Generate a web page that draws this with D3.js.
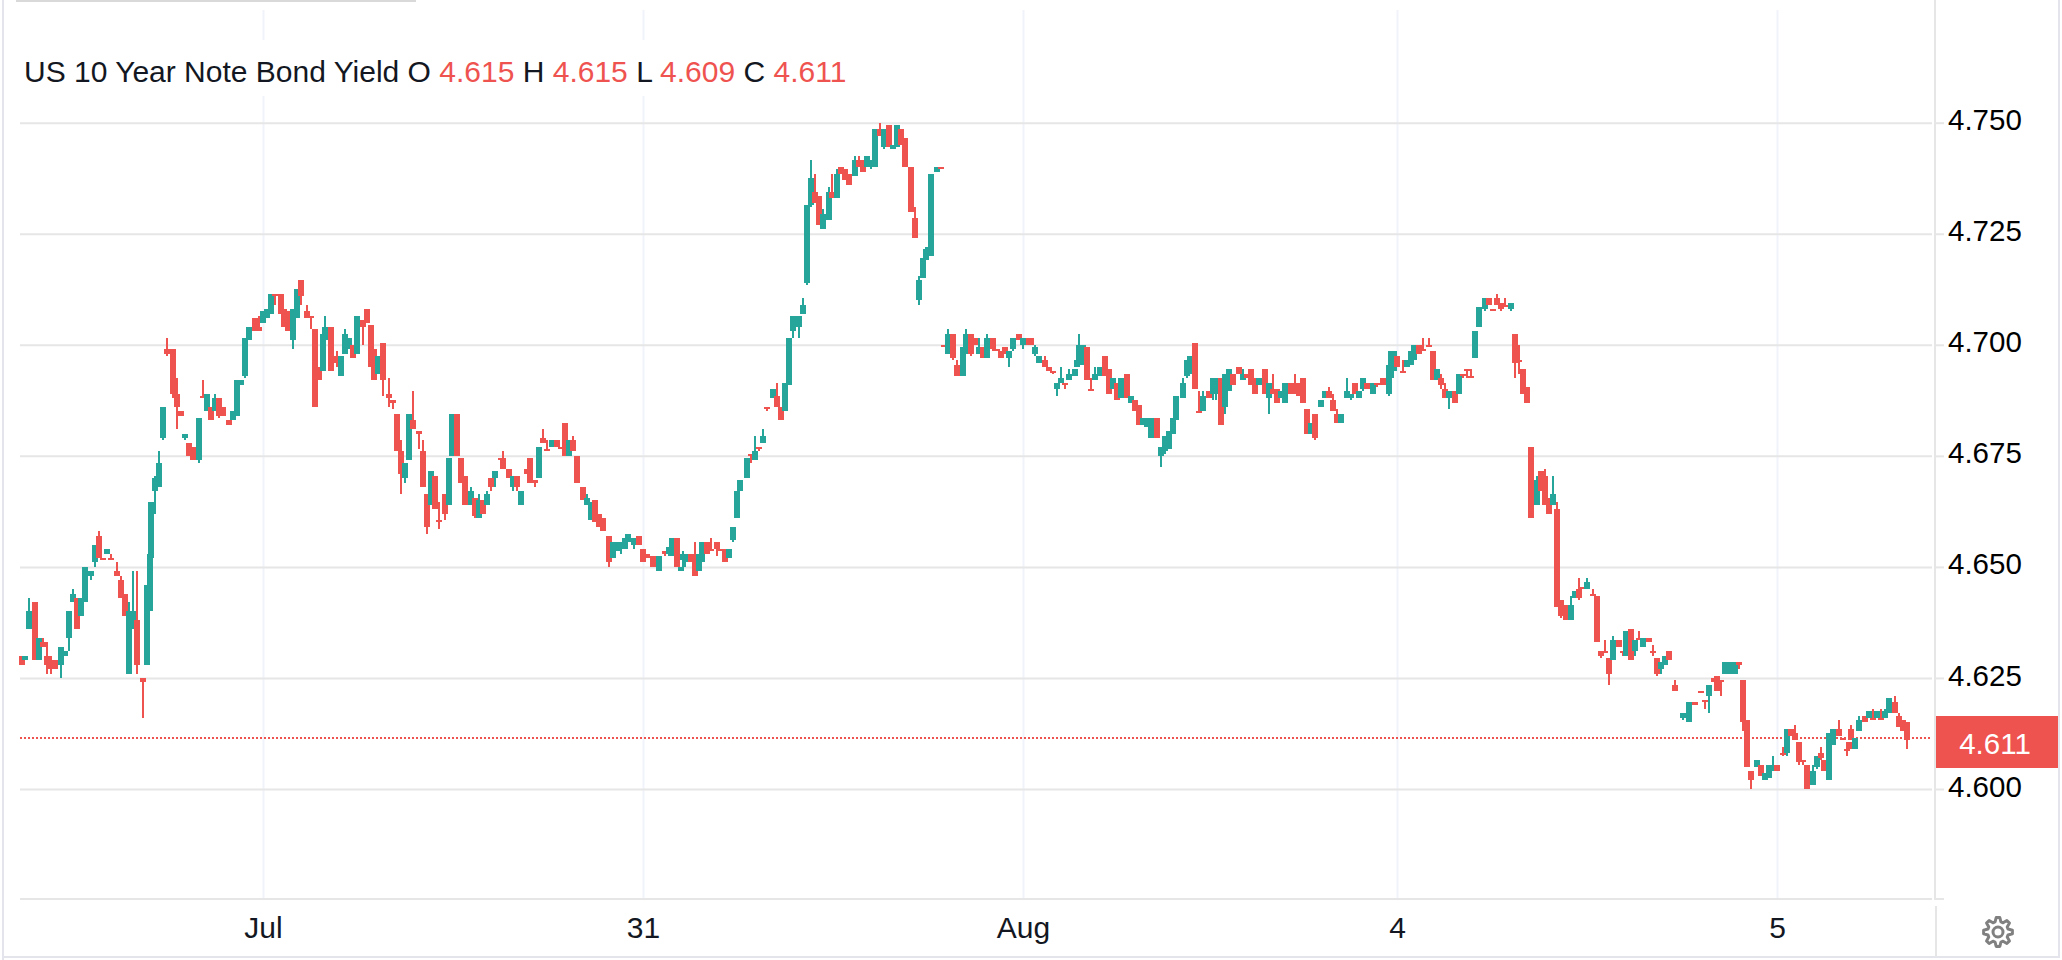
<!DOCTYPE html>
<html>
<head>
<meta charset="utf-8">
<script src="https://cdn.jsdelivr.net/npm/d3@7"></script>
<style>
  html, body { margin: 0; padding: 0; background: #fff; }
  svg { display: block; font-family: "Liberation Sans", Arial, sans-serif; }
</style>
</head>
<body>
<svg id="chart"></svg>
<script>
// bars are [slot, open, high, low, close], one array per trading day
const sessionJun30 = [
  [1,4.630,4.630,4.628,4.628],[2.5,4.629,4.630,4.629,4.630],[4.5,4.636,4.643,4.636,4.640],[7.5,4.642,4.642,4.629,4.629],
  [9.5,4.629,4.634,4.629,4.634],[11.5,4.633,4.634,4.632,4.632],[13.5,4.630,4.633,4.626,4.628],[15.5,4.629,4.630,4.626,4.627],
  [17.5,4.629,4.629,4.627,4.627],[20.5,4.628,4.632,4.625,4.632],[22.5,4.630,4.631,4.630,4.631],[24.5,4.634,4.640,4.631,4.640],
  [26.5,4.642,4.645,4.642,4.644],[28.5,4.643,4.643,4.636,4.636],[30.5,4.639,4.643,4.639,4.643],[32.5,4.642,4.650,4.642,4.650],
  [35.5,4.648,4.649,4.647,4.649],[37.5,4.651,4.655,4.650,4.655],[39.5,4.657,4.658,4.652,4.652],[41.5,4.652,4.652,4.652,4.652],
  [43.5,4.653,4.654,4.653,4.654],[45.5,4.652,4.653,4.652,4.652],[48.5,4.649,4.651,4.648,4.648],[50.5,4.647,4.648,4.643,4.643],
  [52.5,4.644,4.644,4.639,4.639],[54.5,4.626,4.642,4.626,4.640],[56.5,4.636,4.649,4.636,4.640],[58.5,4.638,4.649,4.626,4.628],
  [61.5,4.625,4.625,4.616,4.624],[63.5,4.628,4.646,4.628,4.646],[65,4.640,4.653,4.640,4.653],[65.5,4.652,4.6645,4.652,4.6645],
  [66.5,4.662,4.6645,4.662,4.6645],[67.5,4.667,4.670,4.662,4.670],[68.5,4.668,4.6705,4.668,4.6705],[69.5,4.668,4.676,4.668,4.6735],
  [71.5,4.679,4.686,4.6785,4.686],[73.5,4.699,4.7016,4.6975,4.698],[76.5,4.699,4.699,4.689,4.689],[77.5,4.6925,4.6925,4.688,4.688],
  [78.5,4.689,4.689,4.681,4.686],[80.5,4.685,4.685,4.684,4.684],[82.5,4.679,4.680,4.6785,4.680],[84.5,4.678,4.678,4.675,4.675],
  [86.5,4.677,4.677,4.674,4.674],[89.5,4.674,4.6835,4.6735,4.6835],[91.5,4.6885,4.692,4.688,4.688],[93.5,4.685,4.689,4.685,4.689],
  [95.5,4.686,4.686,4.683,4.683],[97.5,4.685,4.689,4.685,4.688],[99.5,4.688,4.688,4.6835,4.684],[101.5,4.686,4.686,4.684,4.684],
  [104.5,4.683,4.683,4.682,4.682],[106.5,4.683,4.685,4.683,4.685],[108.5,4.684,4.692,4.684,4.692],[110.5,4.691,4.692,4.691,4.692],
  [112.5,4.693,4.7015,4.6925,4.7015],[114.5,4.701,4.704,4.701,4.704],[117.5,4.706,4.706,4.703,4.703],[119.5,4.704,4.7065,4.703,4.703]
];
const sessionJul = [
  [121.5,4.705,4.7075,4.705,4.7075],[123.5,4.706,4.708,4.706,4.708],[125.5,4.707,4.7115,4.707,4.7115],[127.5,4.7115,4.7115,4.709,4.711],
  [130.5,4.7115,4.7115,4.707,4.707],[132,4.708,4.708,4.704,4.704],[134,4.7075,4.7075,4.703,4.703],[136.5,4.701,4.708,4.699,4.708],
  [138.5,4.706,4.7125,4.706,4.7125],[140.5,4.7145,4.7145,4.709,4.711],[143.5,4.7075,4.709,4.706,4.706],[145.5,4.7065,4.7065,4.7035,4.706],
  [147.5,4.7035,4.7035,4.686,4.686],[149.5,4.695,4.695,4.692,4.692],[151.5,4.694,4.7025,4.694,4.7025],[152.5,4.701,4.7065,4.701,4.704],
  [155.5,4.704,4.704,4.694,4.694],[158.5,4.6975,4.6985,4.695,4.696],[160.5,4.693,4.6975,4.693,4.6975],[162.5,4.698,4.7035,4.698,4.7025],
  [164.5,4.699,4.7015,4.699,4.7015],[166.5,4.700,4.700,4.697,4.697],[168.5,4.698,4.7065,4.698,4.7065],[171.5,4.7055,4.7055,4.700,4.704],
  [173.5,4.708,4.708,4.705,4.705],[175.5,4.7045,4.7045,4.695,4.695],[177,4.699,4.699,4.692,4.692],[179,4.6935,4.6975,4.6935,4.6975],
  [181.5,4.7005,4.7005,4.6885,4.692],[184.5,4.689,4.6925,4.686,4.688],[186.5,4.6875,4.6875,4.6855,4.687],[188.5,4.6845,4.6845,4.676,4.676],
  [189.5,4.6785,4.6785,4.676,4.676],[190.5,4.676,4.676,4.6665,4.671],[192.5,4.670,4.6735,4.669,4.6735],[194.5,4.674,4.6845,4.674,4.6845],
  [196.5,4.683,4.6895,4.681,4.681],[199.5,4.6805,4.6805,4.6765,4.680],[201.5,4.676,4.6785,4.668,4.668],[203.5,4.6665,4.6665,4.6575,4.659],
  [205.5,4.664,4.6715,4.664,4.6715],[207.5,4.6705,4.6705,4.663,4.663],[209.5,4.6605,4.6645,4.6585,4.660],[212.5,4.6665,4.6665,4.6605,4.662],
  [214.5,4.664,4.6745,4.664,4.6745],[216,4.675,4.6845,4.675,4.6845],[218.5,4.6845,4.6845,4.675,4.675],[220.5,4.6745,4.6745,4.669,4.669],
  [222.5,4.6705,4.6705,4.664,4.664],[225.5,4.664,4.668,4.664,4.667],[227.5,4.6655,4.6655,4.661,4.6615],[229.5,4.661,4.6665,4.661,4.665],
  [231.5,4.665,4.665,4.662,4.662],[233.5,4.664,4.667,4.664,4.6665],[235.5,4.670,4.670,4.667,4.668],[237.5,4.670,4.6715,4.668,4.6715],
  [240.5,4.6745,4.6745,4.674,4.674],[241.5,4.6745,4.676,4.672,4.672],[244.5,4.672,4.672,4.670,4.670],[246.5,4.668,4.6705,4.667,4.6705],
  [248.5,4.6705,4.6705,4.667,4.668],[250.5,4.664,4.667,4.664,4.667],[253.5,4.672,4.672,4.671,4.671],[255,4.6745,4.6745,4.669,4.669],
  [257.5,4.6695,4.6695,4.668,4.669],[259.5,4.670,4.677,4.670,4.677],[261.5,4.679,4.681,4.678,4.678],[263.5,4.6765,4.6785,4.676,4.676],
  [266,4.677,4.6785,4.677,4.6785],[268.5,4.6785,4.6785,4.677,4.677],[270.5,4.677,4.677,4.6765,4.6765],[272.5,4.6825,4.6825,4.675,4.675],
  [274.5,4.675,4.6785,4.675,4.6785],[276.5,4.6785,4.6795,4.676,4.676],[278.5,4.675,4.675,4.669,4.669],[281.5,4.668,4.668,4.665,4.665],
  [283.5,4.664,4.6665,4.664,4.6655],[285.5,4.6605,4.6645,4.6605,4.6645],[287.5,4.665,4.665,4.660,4.660],[289.5,4.662,4.662,4.659,4.659],
  [291.5,4.661,4.661,4.658,4.658],[294.5,4.657,4.657,4.650,4.651],[296.5,4.652,4.6555,4.652,4.6555],[298.5,4.6535,4.6555,4.6535,4.6555],
  [300.5,4.654,4.6555,4.653,4.6555],[302.5,4.654,4.6565,4.654,4.6565],[304,4.6555,4.6575,4.6555,4.6575],[307,4.655,4.6565,4.654,4.6565],
  [309.5,4.657,4.657,4.655,4.655]
];
const session31 = [
  [311.5,4.654,4.654,4.651,4.651],[313.5,4.653,4.653,4.652,4.652],[316.5,4.6525,4.6525,4.650,4.650],[319.5,4.649,4.6525,4.649,4.6525],
  [322.5,4.6535,4.6535,4.6525,4.653],[324.5,4.653,4.6545,4.6525,4.6545],[326,4.6525,4.6565,4.6525,4.6565],[328.5,4.6565,4.6565,4.650,4.650],
  [330.5,4.649,4.650,4.649,4.650],[331.5,4.6515,4.6535,4.650,4.653],[332.5,4.651,4.653,4.650,4.653],[335.5,4.653,4.653,4.651,4.651],
  [337.5,4.653,4.6555,4.648,4.648],[339.5,4.649,4.653,4.649,4.653],[341,4.651,4.6555,4.651,4.6555],[343.5,4.6555,4.6555,4.653,4.653],
  [345.5,4.654,4.6565,4.6535,4.6535],[348.5,4.6555,4.6555,4.6525,4.654],[350.5,4.654,4.654,4.6535,4.6535],[352.5,4.654,4.654,4.651,4.651],
  [354.5,4.652,4.654,4.652,4.654],[356.5,4.656,4.659,4.6555,4.659],[358.5,4.661,4.667,4.661,4.667],[360,4.667,4.6695,4.667,4.6695],
  [363.5,4.670,4.6745,4.670,4.6745],[365.5,4.6755,4.6755,4.6735,4.675],[367.5,4.674,4.6795,4.674,4.676],[369.5,4.677,4.677,4.676,4.6765],
  [371.5,4.678,4.681,4.678,4.6795],[373.5,4.686,4.686,4.685,4.6855],[376.5,4.688,4.690,4.688,4.690],[378.5,4.6885,4.6915,4.686,4.686],
  [380.5,4.686,4.686,4.683,4.683],[382.5,4.685,4.6915,4.685,4.6915],[384.5,4.691,4.7015,4.691,4.7015],[386.5,4.703,4.7065,4.7015,4.7065],
  [389.5,4.704,4.7065,4.7015,4.7065],[391.5,4.707,4.7105,4.707,4.709],[393.5,4.714,4.7315,4.7135,4.7315],[395.5,4.7315,4.7415,4.731,4.7375],
  [397.5,4.7345,4.7385,4.732,4.732],[399.5,4.7335,4.7335,4.727,4.727],[401.5,4.726,4.7305,4.726,4.7295],[404.5,4.728,4.7355,4.728,4.7345],
  [406,4.7345,4.7385,4.733,4.733],[408.5,4.733,4.7395,4.733,4.7385],[410.5,4.740,4.740,4.7385,4.7385],[412.5,4.7395,4.7395,4.737,4.737],
  [414.5,4.7385,4.7385,4.736,4.736],[417.5,4.738,4.7425,4.738,4.7415],[419.5,4.7415,4.7425,4.740,4.740],[421.5,4.7415,4.7415,4.739,4.739],
  [423.5,4.740,4.7425,4.740,4.7425],[425.5,4.740,4.7415,4.7395,4.7415],[427.5,4.740,4.7485,4.740,4.7485],[430,4.7485,4.750,4.747,4.747],
  [432,4.7445,4.7485,4.744,4.7485],[434.5,4.7495,4.7495,4.7445,4.7445],[436.5,4.744,4.745,4.744,4.745],[438.5,4.7445,4.7495,4.7445,4.7495],
  [440.5,4.7485,4.7485,4.745,4.745],[442.5,4.7465,4.7465,4.740,4.740],[445.5,4.740,4.740,4.730,4.730],[447.5,4.7285,4.731,4.724,4.724],
  [449.5,4.710,4.7155,4.709,4.7145],[451.5,4.715,4.7195,4.715,4.7195],[453,4.719,4.7215,4.719,4.7215],[454,4.720,4.722,4.720,4.722],
  [455.5,4.720,4.7385,4.720,4.7385],[458.5,4.739,4.740,4.739,4.740],[460.5,4.740,4.740,4.7395,4.7395],[462,4.700,4.700,4.700,4.700],
  [464,4.698,4.7035,4.698,4.7025],[466.5,4.7025,4.7025,4.6965,4.697],[468.5,4.6955,4.6965,4.693,4.693],[471.5,4.693,4.6995,4.693,4.6995],
  [473,4.698,4.7035,4.698,4.7025],[475.5,4.7025,4.7025,4.6975,4.698],[477.5,4.7015,4.7015,4.700,4.700],[479.5,4.698,4.7015,4.698,4.6995],
  [481.5,4.6995,4.6995,4.697,4.697],[483.5,4.697,4.7025,4.697,4.7015],[486.5,4.7015,4.7015,4.6985,4.699],[488.5,4.699,4.699,4.699,4.699],
  [490.5,4.6985,4.6985,4.697,4.697],[492.5,4.6995,4.6995,4.698,4.698],[494.5,4.697,4.6985,4.695,4.6985],[496.5,4.699,4.7015,4.6985,4.7015],
  [499.5,4.7025,4.7025,4.701,4.701]
];
const sessionAug = [
  [501.5,4.700,4.7015,4.699,4.7015],[504.5,4.7015,4.7015,4.700,4.700],[505.5,4.7015,4.7015,4.700,4.700],[507.5,4.698,4.700,4.6975,4.6995],
  [509.5,4.696,4.6975,4.696,4.6975],[512.5,4.6965,4.6975,4.695,4.695],[514.5,4.695,4.695,4.694,4.694],[516.5,4.694,4.694,4.6935,4.694],
  [518.5,4.690,4.6915,4.6885,4.6915],[520.5,4.6915,4.695,4.6915,4.6925],[522.5,4.6915,4.6915,4.690,4.6915],[524.5,4.692,4.6945,4.692,4.6935],
  [527.5,4.693,4.6945,4.693,4.6945],[528.5,4.695,4.6965,4.695,4.6965],[529.5,4.6955,4.7025,4.6955,4.700],[531.5,4.6955,4.700,4.6955,4.700],
  [533.5,4.6995,4.6995,4.692,4.692],[535.5,4.690,4.6925,4.6895,4.690],[537.5,4.692,4.695,4.692,4.6935],[540,4.693,4.695,4.693,4.695],
  [542.5,4.6975,4.6975,4.693,4.693],[544.5,4.6945,4.6945,4.689,4.689],[546.5,4.690,4.6925,4.690,4.6925],[548.5,4.6915,4.6915,4.6875,4.6875],
  [550.5,4.688,4.6925,4.688,4.6925],[553.5,4.6935,4.6935,4.688,4.688],[555.5,4.687,4.6885,4.687,4.6885],[557.5,4.6875,4.6875,4.685,4.685],
  [559.5,4.6865,4.6865,4.682,4.682],[561.5,4.682,4.6835,4.682,4.6835],[563.5,4.6815,4.6835,4.6815,4.6835],[565.5,4.679,4.6835,4.679,4.6835],
  [568.5,4.6835,4.6835,4.679,4.679],[570.5,4.675,4.677,4.6725,4.677],[572.5,4.676,4.6795,4.6755,4.6795],[574.5,4.6765,4.6805,4.6765,4.6805],
  [576.5,4.680,4.6835,4.680,4.6835],[578,4.683,4.6885,4.683,4.6885],[581.5,4.688,4.6925,4.688,4.6915],[583.5,4.693,4.6965,4.6925,4.6965],
  [585,4.6935,4.6975,4.6935,4.6975],[587.5,4.7005,4.7005,4.690,4.690],[589.5,4.685,4.6895,4.685,4.685],[591.5,4.685,4.6895,4.685,4.6885],
  [594.5,4.6895,4.6895,4.688,4.688],[596.5,4.689,4.6925,4.6875,4.6925],[598,4.689,4.6925,4.6875,4.6925],[600.5,4.6925,4.6925,4.682,4.682],
  [602.5,4.686,4.6935,4.6845,4.6935],[604.5,4.6895,4.6945,4.6895,4.6945],[606.5,4.6935,4.6935,4.691,4.691],[609.5,4.695,4.695,4.6935,4.6935],
  [611.5,4.692,4.6945,4.692,4.6935],[613.5,4.6935,4.6935,4.6925,4.6925],[615.5,4.6945,4.6945,4.691,4.691],[617.5,4.6925,4.6925,4.689,4.689],
  [619.5,4.691,4.6925,4.691,4.6925],[622.5,4.6945,4.6945,4.689,4.689],[624.5,4.688,4.6915,4.6845,4.6915],[626.5,4.690,4.6935,4.689,4.689],
  [628.5,4.690,4.690,4.687,4.687],[630.5,4.688,4.6895,4.688,4.6895],[632.5,4.687,4.6915,4.687,4.6915],[635.5,4.6915,4.6915,4.689,4.689],
  [637.5,4.6915,4.6935,4.689,4.689],[639.5,4.6915,4.6915,4.6885,4.6885],[641.5,4.6925,4.6925,4.687,4.687],[643.5,4.6855,4.6855,4.680,4.680],
  [645.5,4.680,4.6825,4.680,4.6825],[647.5,4.6845,4.6845,4.6785,4.679],[650.5,4.686,4.6875,4.686,4.6875],[652.5,4.688,4.6895,4.688,4.6895],
  [654.5,4.6895,4.6905,4.688,4.688],[656.5,4.6875,4.689,4.685,4.685],[658.5,4.6845,4.6855,4.6825,4.6825],[660.5,4.6825,4.6845,4.6825,4.6845],
  [663.5,4.688,4.6925,4.688,4.6895],[665.5,4.688,4.689,4.6875,4.689],[667.5,4.6915,4.6915,4.689,4.689],[669.5,4.688,4.6895,4.688,4.6895],
  [671.5,4.690,4.6925,4.6895,4.6925],[673.5,4.6915,4.6915,4.690,4.690],[676.5,4.689,4.6915,4.689,4.6915],[678.5,4.6915,4.6915,4.6905,4.691],
  [681.5,4.6925,4.6925,4.691,4.691],[684.5,4.689,4.6955,4.6885,4.6955],[685.5,4.6925,4.6985,4.6925,4.6985],[687,4.694,4.6985,4.694,4.6985]
];
const session4 = [
  [688.5,4.6975,4.6975,4.695,4.695],[691.5,4.694,4.6965,4.694,4.694],[693.5,4.695,4.6965,4.695,4.6965],[695.5,4.6955,4.6985,4.6955,4.6985],
  [697,4.6965,4.700,4.6965,4.700],[699.5,4.700,4.700,4.698,4.698],[701.5,4.699,4.7015,4.699,4.699],[704.5,4.700,4.7015,4.6995,4.700],
  [706.5,4.6985,4.6985,4.692,4.692],[708.5,4.692,4.6945,4.692,4.6945],[710.5,4.6925,4.6935,4.690,4.691],[712.5,4.690,4.6915,4.688,4.688],
  [714.5,4.688,4.6895,4.6855,4.6895],[717.5,4.6895,4.6895,4.687,4.687],[719.5,4.689,4.6935,4.689,4.6935],[721.5,4.6935,4.6935,4.6925,4.693],
  [723.5,4.6945,4.6945,4.6925,4.694],[725.5,4.693,4.6945,4.693,4.693],[727.5,4.697,4.703,4.697,4.703],[729.5,4.704,4.7085,4.704,4.7085],
  [732.5,4.708,4.7105,4.7075,4.7105],[734.5,4.7105,4.7105,4.709,4.709],[736.5,4.708,4.708,4.7075,4.708],[738.5,4.7105,4.7115,4.709,4.709],
  [740.5,4.7095,4.7095,4.7075,4.708],[742.5,4.709,4.7105,4.7085,4.709],[745.5,4.708,4.7095,4.7075,4.7095],[747.5,4.7025,4.7025,4.6925,4.696],
  [748.5,4.700,4.700,4.696,4.696],[749.5,4.6965,4.6965,4.6935,4.6965],[751.5,4.6945,4.6945,4.689,4.689],[753.5,4.6905,4.6905,4.687,4.687],
  [755.5,4.677,4.677,4.661,4.661],[758.5,4.664,4.6705,4.664,4.6695],[760.5,4.6715,4.6715,4.667,4.667],[762.5,4.6705,4.672,4.664,4.664],
  [764.5,4.6655,4.6655,4.662,4.662],[766.5,4.664,4.6705,4.664,4.6665],[768.5,4.663,4.6645,4.641,4.641],[770.5,4.6425,4.6425,4.6385,4.639],
  [773,4.6415,4.6415,4.638,4.638],[775.5,4.638,4.6435,4.638,4.6415],[777.5,4.643,4.6445,4.643,4.6445],[779.5,4.645,4.6475,4.6425,4.643],
  [781.5,4.6455,4.6455,4.645,4.645],[783.5,4.645,4.6475,4.645,4.6465],[786.5,4.644,4.645,4.6435,4.644],[788.5,4.6435,4.6435,4.633,4.633],
  [790.5,4.631,4.631,4.6295,4.630],[792.5,4.631,4.6335,4.631,4.631],[794.5,4.6295,4.6295,4.6235,4.626],[796.5,4.629,4.6345,4.629,4.6335],
  [799.5,4.6335,4.6335,4.632,4.632],[801.5,4.631,4.631,4.630,4.631],[803,4.630,4.6355,4.630,4.6355],[805.5,4.636,4.636,4.629,4.629],
  [807.5,4.631,4.6335,4.630,4.6335],[809.5,4.634,4.6355,4.6335,4.634],[811.5,4.632,4.634,4.632,4.634],[814.5,4.634,4.634,4.633,4.633],
  [816.5,4.631,4.6325,4.630,4.631],[818.5,4.6295,4.6295,4.6255,4.626],[820.5,4.627,4.6285,4.626,4.6285],[822.5,4.628,4.630,4.628,4.630],
  [824.5,4.631,4.631,4.629,4.629],[827.5,4.6235,4.6245,4.622,4.622],[831.5,4.616,4.617,4.6155,4.617],[834.5,4.615,4.6195,4.615,4.6195],
  [837.5,4.6195,4.6195,4.619,4.619],[840.5,4.622,4.622,4.622,4.622],[842.5,4.620,4.620,4.618,4.620],[844.5,4.621,4.6235,4.617,4.6235],
  [847,4.625,4.625,4.624,4.624],[848.5,4.6255,4.6255,4.622,4.622],[850.5,4.6245,4.6245,4.621,4.624],[852.5,4.626,4.6285,4.626,4.6285],
  [854.5,4.626,4.6285,4.626,4.6285],[856.5,4.626,4.6285,4.626,4.6285],[857.5,4.626,4.6285,4.626,4.6285],[859.5,4.6285,4.6285,4.627,4.628],
  [861.5,4.6245,4.6245,4.615,4.615],[862.5,4.6155,4.6155,4.613,4.613],[863.5,4.6155,4.6155,4.605,4.605],[865.5,4.604,4.604,4.600,4.602],
  [868.5,4.605,4.6065,4.605,4.6065],[870.5,4.6055,4.6055,4.603,4.603],[872.5,4.602,4.6035,4.602,4.6035],[874.5,4.6025,4.6055,4.6025,4.6055]
];
const session5 = [
  [876.5,4.604,4.6075,4.604,4.6055],[878.5,4.6055,4.6055,4.604,4.604],[881.5,4.608,4.6095,4.6075,4.608],[883.5,4.608,4.6135,4.6075,4.6135],
  [885.5,4.6135,4.6135,4.612,4.612],[887.5,4.6125,4.6145,4.611,4.611],[889.5,4.6105,4.6105,4.6055,4.606],[891.5,4.6065,4.6065,4.6055,4.606],
  [893.5,4.6055,4.6055,4.600,4.600],[896.5,4.601,4.6055,4.601,4.604],[898.5,4.605,4.6075,4.6045,4.6075],[900.5,4.608,4.6095,4.6065,4.607],
  [902,4.6065,4.6065,4.604,4.604],[904.5,4.602,4.6125,4.602,4.6125],[906.5,4.610,4.6135,4.610,4.6135],[909.5,4.6135,4.6155,4.612,4.612],
  [911.5,4.6115,4.6115,4.611,4.611],[913.5,4.609,4.6105,4.6075,4.609],[914.5,4.6105,4.6105,4.609,4.609],[915.5,4.6135,4.6145,4.611,4.611],
  [917.5,4.609,4.6115,4.609,4.6115],[919.5,4.613,4.6165,4.613,4.6155],[922.5,4.6165,4.6165,4.615,4.615],[924.5,4.616,4.6175,4.616,4.6175],
  [926.5,4.616,4.618,4.616,4.616],[928.5,4.616,4.6175,4.616,4.6175],[930.5,4.616,4.618,4.616,4.616],[932.5,4.616,4.618,4.616,4.6175],
  [934.5,4.617,4.6205,4.617,4.6205],[937.5,4.6195,4.621,4.617,4.617],[939.5,4.6165,4.617,4.614,4.614],[941.5,4.6155,4.6155,4.613,4.613],
  [943.5,4.615,4.615,4.609,4.611]
];
const yTickValues = [4.6, 4.625, 4.65, 4.675, 4.7, 4.725, 4.75];
const xTickSlots = [121.5, 311.5, 501.5, 688.5, 878.5];
const xTickLabels = ['Jul', '31', 'Aug', '4', '5'];
const legendParts = [
  ['US 10 Year Note Bond Yield O ', 'label'], ['4.615', 'value'], [' H ', 'label'], ['4.615', 'value'],
  [' L ', 'label'], ['4.609', 'value'], [' C ', 'label'], ['4.611', 'value']
];
const lastPrice = 4.6115;
const lastPriceLabel = '4.611';

const width = 2062, height = 960;
const upColor = '#26a69a', downColor = '#ef5350';
const pane = { left: 20, right: 1932, top: 10, bottom: 899 };

const svg = d3.select('#chart').attr('width', width).attr('height', height);

const xScale = d3.scaleLinear().domain([0, 956]).range([pane.left, pane.right]);
const yScale = d3.scaleLinear().domain([4.6, 4.75]).range([789, 122.7]);

// page frame
svg.append('rect').attr('x', 16).attr('y', 0).attr('width', 400).attr('height', 2).attr('fill', '#d9d9d9');
svg.append('rect').attr('x', 2).attr('y', 0).attr('width', 2).attr('height', height).attr('fill', '#e4e4ec');
svg.append('rect').attr('x', 2).attr('y', 956).attr('width', 2058).attr('height', 2).attr('fill', '#e4e4ec');
svg.append('rect').attr('x', 2058).attr('y', 0).attr('width', 2).attr('height', 958).attr('fill', '#e4e4ec');

// vertical grid
const xGrid = d3.axisBottom(xScale).tickValues(xTickSlots).tickSize(pane.bottom - pane.top).tickFormat('');
svg.append('g').attr('transform', `translate(0,${pane.top})`).call(xGrid)
  .call(g => g.select('.domain').remove())
  .selectAll('line').attr('stroke', '#f0f3fa').attr('stroke-width', 2);

// white plate behind the legend cuts the vertical grid
svg.append('rect').attr('x', 16).attr('y', 40).attr('width', 836).attr('height', 56).attr('fill', '#fff');

// horizontal grid
const yGrid = d3.axisLeft(yScale).tickValues(yTickValues).tickSize(pane.right - pane.left).tickFormat('');
svg.append('g').attr('transform', `translate(${pane.right},0)`).call(yGrid)
  .call(g => g.select('.domain').remove())
  .selectAll('line').attr('stroke', '#e6e6e6').attr('stroke-width', 2);

// last price line
svg.append('line')
  .attr('x1', pane.left).attr('x2', pane.right)
  .attr('y1', yScale(lastPrice)).attr('y2', yScale(lastPrice))
  .attr('stroke', downColor).attr('stroke-width', 2).attr('stroke-dasharray', '2 2');

// candles
const bars = [sessionJun30, sessionJul, session31, sessionAug, session4, session5].flat()
  .map(([slot, open, high, low, close]) => ({ slot, open, high, low, close }));
const barColor = d => d.close >= d.open && d.close !== d.open ? upColor : downColor;

const candle = svg.append('g').attr('class', 'candles').attr('shape-rendering', 'crispEdges')
  .selectAll('g').data(bars).join('g').attr('fill', barColor);

candle.append('rect')
  .attr('x', d => Math.round(xScale(d.slot)) - 1)
  .attr('width', 2)
  .attr('y', d => yScale(d.high))
  .attr('height', d => Math.max(yScale(d.low) - yScale(d.high), 2));

candle.append('rect')
  .attr('x', d => Math.round(xScale(d.slot)) - 3)
  .attr('width', 6)
  .attr('y', d => yScale(Math.max(d.open, d.close)))
  .attr('height', d => Math.max(Math.abs(yScale(d.open) - yScale(d.close)), 2));

// price axis
svg.append('rect').attr('x', 1934).attr('y', 0).attr('width', 2).attr('height', pane.bottom + 1).attr('fill', '#e6e6e6');
const yAxis = d3.axisRight(yScale).tickValues(yTickValues).tickSize(8).tickPadding(4).tickFormat(d3.format('.3f'));
const yAxisG = svg.append('g').attr('transform', 'translate(1936,0)').call(yAxis);
yAxisG.select('.domain').remove();
yAxisG.selectAll('line').attr('stroke', '#e6e6e6').attr('stroke-width', 2);
yAxisG.selectAll('text')
  .attr('font-family', '"Liberation Sans", Arial, sans-serif').attr('font-size', 29.5)
  .attr('fill', '#000').attr('dy', '0.24em');

// time axis
svg.append('rect').attr('x', pane.left).attr('y', pane.bottom - 1).attr('width', pane.right - pane.left).attr('height', 2).attr('fill', '#e6e6e6');
svg.append('rect').attr('x', 1936).attr('y', pane.bottom - 1).attr('width', 8).attr('height', 2).attr('fill', '#e6e6e6');
svg.append('rect').attr('x', 1935).attr('y', 906).attr('width', 2).attr('height', 50).attr('fill', '#e6e6e6');
const xAxis = d3.axisBottom(xScale).tickValues(xTickSlots).tickSize(0).tickPadding(0)
  .tickFormat((d, i) => xTickLabels[i]);
const xAxisG = svg.append('g').attr('transform', 'translate(0,938)').call(xAxis);
xAxisG.select('.domain').remove();
xAxisG.selectAll('text')
  .attr('font-family', '"Liberation Sans", Arial, sans-serif').attr('font-size', 30)
  .attr('fill', '#131722').attr('dy', 0).attr('y', 0);

// last price label
svg.append('rect').attr('x', 1936).attr('y', 716).attr('width', 122).attr('height', 52).attr('fill', downColor);
svg.append('text').attr('x', 1995).attr('y', 754).attr('text-anchor', 'middle')
  .attr('font-size', 29.5).attr('fill', '#fff').text(lastPriceLabel);

// legend
svg.append('text').attr('x', 24).attr('y', 82).attr('font-size', 30)
  .selectAll('tspan').data(legendParts).join('tspan')
  .attr('xml:space', 'preserve').style('white-space', 'pre')
  .attr('fill', d => d[1] === 'value' ? downColor : '#131722')
  .text(d => d[0]);

// settings gear
const gearTeeth = 8;
const gearOutline = [];
for (let i = 0; i < gearTeeth; i++) {
  const a = i * 2 * Math.PI / gearTeeth;
  const step = 2 * Math.PI / gearTeeth;
  gearOutline.push([a - step * 0.36, 10.5], [a - step * 0.16, 14.5], [a + step * 0.16, 14.5], [a + step * 0.36, 10.5]);
}
const gear = svg.append('g').attr('transform', 'translate(1998,932)')
  .attr('fill', 'none').attr('stroke', '#808080').attr('stroke-width', 3).attr('stroke-linejoin', 'round');
gear.append('path').attr('d', d3.lineRadial().curve(d3.curveLinearClosed)(gearOutline));
gear.append('circle').attr('r', 5);
</script>
</body>
</html>
